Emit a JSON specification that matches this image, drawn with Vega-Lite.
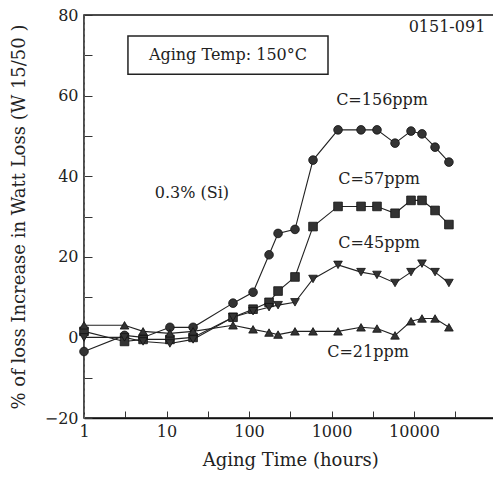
{
  "$schema": "https://vega.github.io/schema/vega-lite/v6.json",
  "width": 412.5,
  "height": 403,
  "autosize": "none",
  "padding": {"left": 84, "top": 15, "right": 0, "bottom": 64},
  "background": "white",
  "config": {
    "view": {"stroke": "#111", "strokeWidth": 1.5},
    "font": "DejaVu Serif",
    "axis": {"grid": false, "labelFont": "DejaVu Serif", "titleFont": "DejaVu Serif", "labelColor": "#222", "titleColor": "#222", "titleFontWeight": "normal", "labelFontSize": 16, "titleFontSize": 18, "tickColor": "#333", "domainColor": "#111"}
  },
  "datasets": {
    "pts": [
      {"series": "C=156ppm", "t": 1, "v": -3.5},
      {"series": "C=156ppm", "t": 3.1, "v": 0.5},
      {"series": "C=156ppm", "t": 5.2, "v": 0},
      {"series": "C=156ppm", "t": 11, "v": 2.5},
      {"series": "C=156ppm", "t": 21, "v": 2.5},
      {"series": "C=156ppm", "t": 64, "v": 8.5},
      {"series": "C=156ppm", "t": 112, "v": 11.2},
      {"series": "C=156ppm", "t": 175, "v": 20.5},
      {"series": "C=156ppm", "t": 225, "v": 25.8},
      {"series": "C=156ppm", "t": 361, "v": 26.8},
      {"series": "C=156ppm", "t": 597, "v": 44},
      {"series": "C=156ppm", "t": 1200, "v": 51.5},
      {"series": "C=156ppm", "t": 2280, "v": 51.5},
      {"series": "C=156ppm", "t": 3560, "v": 51.5},
      {"series": "C=156ppm", "t": 5890, "v": 48.2},
      {"series": "C=156ppm", "t": 9200, "v": 51.2},
      {"series": "C=156ppm", "t": 12500, "v": 50.5},
      {"series": "C=156ppm", "t": 18000, "v": 47.2},
      {"series": "C=156ppm", "t": 26500, "v": 43.5},
      {"series": "C=57ppm", "t": 1, "v": 1.5},
      {"series": "C=57ppm", "t": 3.1, "v": -1},
      {"series": "C=57ppm", "t": 5.2, "v": -0.5},
      {"series": "C=57ppm", "t": 11, "v": -0.5},
      {"series": "C=57ppm", "t": 21, "v": 0},
      {"series": "C=57ppm", "t": 64, "v": 5},
      {"series": "C=57ppm", "t": 112, "v": 7},
      {"series": "C=57ppm", "t": 175, "v": 8.7},
      {"series": "C=57ppm", "t": 225, "v": 11.5},
      {"series": "C=57ppm", "t": 361, "v": 15},
      {"series": "C=57ppm", "t": 597, "v": 27.5},
      {"series": "C=57ppm", "t": 1200, "v": 32.5},
      {"series": "C=57ppm", "t": 2280, "v": 32.5},
      {"series": "C=57ppm", "t": 3560, "v": 32.5},
      {"series": "C=57ppm", "t": 5890, "v": 30.8},
      {"series": "C=57ppm", "t": 9200, "v": 34},
      {"series": "C=57ppm", "t": 12500, "v": 34},
      {"series": "C=57ppm", "t": 18000, "v": 31.5},
      {"series": "C=57ppm", "t": 26500, "v": 28},
      {"series": "C=45ppm", "t": 1, "v": 0},
      {"series": "C=45ppm", "t": 3.1, "v": 0},
      {"series": "C=45ppm", "t": 5.2, "v": -1},
      {"series": "C=45ppm", "t": 11, "v": -1.5},
      {"series": "C=45ppm", "t": 21, "v": -0.5},
      {"series": "C=45ppm", "t": 64, "v": 5},
      {"series": "C=45ppm", "t": 112, "v": 6.5},
      {"series": "C=45ppm", "t": 175, "v": 7.5},
      {"series": "C=45ppm", "t": 225, "v": 8},
      {"series": "C=45ppm", "t": 361, "v": 8.7},
      {"series": "C=45ppm", "t": 597, "v": 14.5},
      {"series": "C=45ppm", "t": 1200, "v": 18},
      {"series": "C=45ppm", "t": 2280, "v": 16.2},
      {"series": "C=45ppm", "t": 3560, "v": 15.5},
      {"series": "C=45ppm", "t": 5890, "v": 13.5},
      {"series": "C=45ppm", "t": 9200, "v": 16.2},
      {"series": "C=45ppm", "t": 12500, "v": 18.3},
      {"series": "C=45ppm", "t": 18000, "v": 16.2},
      {"series": "C=45ppm", "t": 26500, "v": 13.5},
      {"series": "C=21ppm", "t": 1, "v": 3},
      {"series": "C=21ppm", "t": 3.1, "v": 3},
      {"series": "C=21ppm", "t": 5.2, "v": 1.5},
      {"series": "C=21ppm", "t": 11, "v": 1},
      {"series": "C=21ppm", "t": 21, "v": 1.5},
      {"series": "C=21ppm", "t": 64, "v": 3},
      {"series": "C=21ppm", "t": 112, "v": 2},
      {"series": "C=21ppm", "t": 175, "v": 1.2},
      {"series": "C=21ppm", "t": 225, "v": 0.7},
      {"series": "C=21ppm", "t": 361, "v": 1.5},
      {"series": "C=21ppm", "t": 597, "v": 1.5},
      {"series": "C=21ppm", "t": 1200, "v": 1.5},
      {"series": "C=21ppm", "t": 2280, "v": 2.5},
      {"series": "C=21ppm", "t": 3560, "v": 2.2},
      {"series": "C=21ppm", "t": 5890, "v": 0.5},
      {"series": "C=21ppm", "t": 9200, "v": 4},
      {"series": "C=21ppm", "t": 12500, "v": 4.7},
      {"series": "C=21ppm", "t": 18000, "v": 4.7},
      {"series": "C=21ppm", "t": 26500, "v": 2.5}
    ],
    "labels": [
      {"t": 4100, "v": 58.9, "text": "C=156ppm"},
      {"t": 3770, "v": 39.3, "text": "C=57ppm"},
      {"t": 3770, "v": 23.4, "text": "C=45ppm"},
      {"t": 2770, "v": -3.7, "text": "C=21ppm"},
      {"t": 20.3, "v": 35.8, "text": "0.3% (Si)"},
      {"t": 55.6, "v": 70, "text": "Aging Temp: 150°C"},
      {"t": 25100, "v": 77, "text": "0151-091"}
    ],
    "box": [
      {"t1": 3.41, "t2": 907, "v1": 74.8, "v2": 65.3}
    ]
  },
  "layer": [
    {
      "data": {"name": "box"},
      "mark": {"type": "rect", "fill": null, "fillOpacity": 0, "stroke": "#222", "strokeWidth": 1.5},
      "encoding": {
        "x": {"field": "t1", "type": "quantitative", "scale": {"type": "log", "domain": [1, 100000], "nice": false}},
        "x2": {"field": "t2"},
        "y": {"field": "v1", "type": "quantitative", "scale": {"domain": [-20, 80], "nice": false}},
        "y2": {"field": "v2"}
      }
    },
    {
      "data": {"name": "pts"},
      "mark": {"type": "line", "color": "#222", "strokeWidth": 1.1},
      "encoding": {
        "x": {"field": "t", "type": "quantitative", "scale": {"type": "log", "domain": [1, 100000], "nice": false},
          "axis": {"title": "Aging Time (hours)", "values": [1, 3.162, 10, 31.62, 100, 316.2, 1000, 3162, 10000, 31623],
            "labelExpr": "(datum.value == 1 || datum.value == 10 || datum.value == 100 || datum.value == 1000 || datum.value == 10000) ? format(datum.value, 'd') : ''",
            "tickSize": -7, "labelPadding": 12, "titlePadding": 12, "domainWidth": 1.5, "labelFlush": false}},
        "y": {"field": "v", "type": "quantitative", "scale": {"domain": [-20, 80], "nice": false},
          "axis": {"title": "% of loss Increase in Watt Loss (W 15/50 )", "values": [-20, -10, 0, 10, 20, 30, 40, 50, 60, 70, 80],
            "labelExpr": "datum.value % 20 == 0 ? datum.label : ''", "tickSize": -8, "labelPadding": 14, "titlePadding": 16, "domainColor": "#666", "domainWidth": 1, "domainDash": [4, 2], "labelFlush": false}},
        "detail": {"field": "series"}
      }
    },
    {
      "data": {"name": "pts"},
      "mark": {"type": "point", "filled": true, "opacity": 1, "color": "#333", "stroke": "#111", "strokeWidth": 0.8},
      "encoding": {
        "x": {"field": "t", "type": "quantitative"},
        "y": {"field": "v", "type": "quantitative"},
        "shape": {"field": "series", "type": "nominal", "legend": null,
          "scale": {"domain": ["C=156ppm", "C=57ppm", "C=45ppm", "C=21ppm"], "range": ["circle", "square", "triangle-down", "triangle-up"]}},
        "size": {"value": 75}
      }
    },
    {
      "data": {"name": "labels"},
      "mark": {"type": "text", "font": "DejaVu Serif", "fontSize": 16, "color": "#222", "align": "center", "baseline": "middle"},
      "encoding": {
        "x": {"field": "t", "type": "quantitative"},
        "y": {"field": "v", "type": "quantitative"},
        "text": {"field": "text"}
      }
    }
  ]
}
